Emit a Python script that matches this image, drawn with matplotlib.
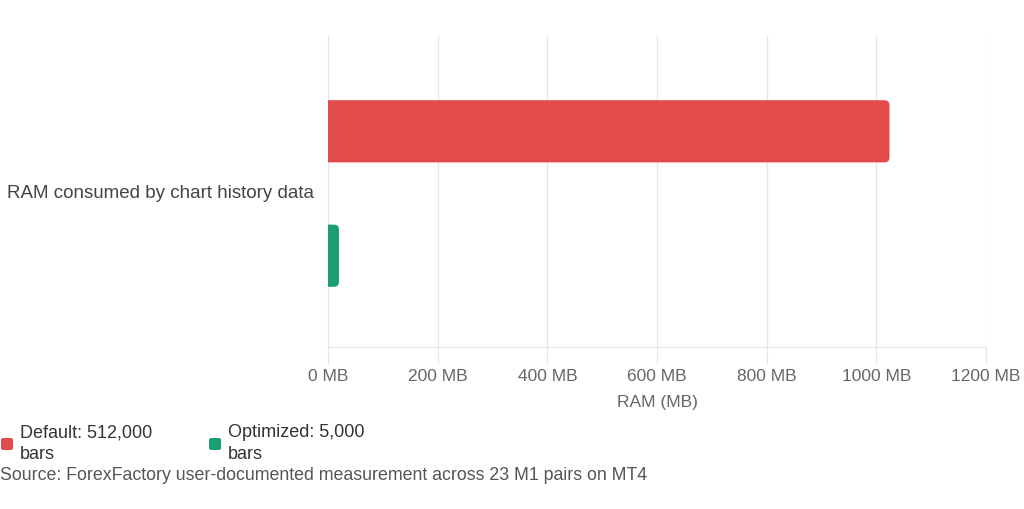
import matplotlib
matplotlib.use('Agg')
import matplotlib.pyplot as plt
from matplotlib.patches import FancyBboxPatch

# --- Data ---
category = 'RAM consumed by chart history data'
series_labels = ['Default: 512,000\nbars', 'Optimized: 5,000\nbars']
ram_mb = [1024, 20]
colors = ['#E24B4B', '#1B9E73']
x_ticks = [0, 200, 400, 600, 800, 1000, 1200]
source = 'Source: ForexFactory user-documented measurement across 23 M1 pairs on MT4'

plt.rcParams['font.family'] = ['Liberation Sans', 'DejaVu Sans']

W, H = 1024, 509
fig = plt.figure(figsize=(W / 100, H / 100), dpi=100)
ax = fig.add_axes([328 / W, 1 - 347 / H, 658 / W, 311 / H])
ax.set_xlim(0, 1200)
ax.set_ylim(-0.5, 0.5)

# bar offsets within the single category
offsets = [0.2, -0.2]
bar_h = 0.2
bars = ax.barh(offsets, ram_mb, height=bar_h, color=colors)

# swap plain bars for ones with rounded ends (like chart.js borderRadius)
px_x = 1200 / 658
px_y = 1.0 / 311
r = 5 * px_x
for b in bars:
    x0, y0 = b.get_x(), b.get_y() - 2 * px_y
    w, h = b.get_width(), b.get_height()
    b.set_visible(False)
    p = FancyBboxPatch((x0 - r, y0), w + r, h,
                       boxstyle='round,pad=0,rounding_size=%f' % r,
                       mutation_aspect=px_y / px_x,
                       facecolor=b.get_facecolor(), edgecolor='none', zorder=3)
    ax.add_patch(p)

# --- Axes styling ---
ax.set_xticks(x_ticks)
ax.set_xticklabels(['%d MB' % t for t in x_ticks])
ax.set_yticks([0])
ax.set_yticklabels([category])
ax.grid(axis='x', color='#e6e6e6', linewidth=1)
ax.set_axisbelow(True)
for s in ['top', 'right']:
    ax.spines[s].set_visible(False)
ax.spines['left'].set_color('#e6e6e6')
ax.spines['bottom'].set_color('#e6e6e6')
ax.tick_params(axis='x', colors='#e6e6e6', labelcolor='#666666', labelsize=12.5, length=12, pad=4)
ax.tick_params(axis='y', length=0, labelcolor='#444444', labelsize=13.5, pad=10)
ax.set_xlabel('RAM (MB)', color='#666666', fontsize=12.5, labelpad=8)

# --- Legend ---
leg_x = [1, 209]
for lx, lab, c in zip(leg_x, series_labels, colors):
    fig.patches.append(FancyBboxPatch((lx / W, 1 - 450 / H), 12 / W, 12 / H,
                                      boxstyle='round,pad=0,rounding_size=0.003',
                                      transform=fig.transFigure, facecolor=c,
                                      edgecolor='none'))
    fig.text((lx + 19) / W, 1 - 424 / H, lab, ha='left', va='top',
             fontsize=13, color='#333333', linespacing=1.4)

fig.text(0 / W, 1 - 476 / H, source, ha='left', va='center', fontsize=12.8, color='#555555')

plt.savefig('out.png', dpi=100)
